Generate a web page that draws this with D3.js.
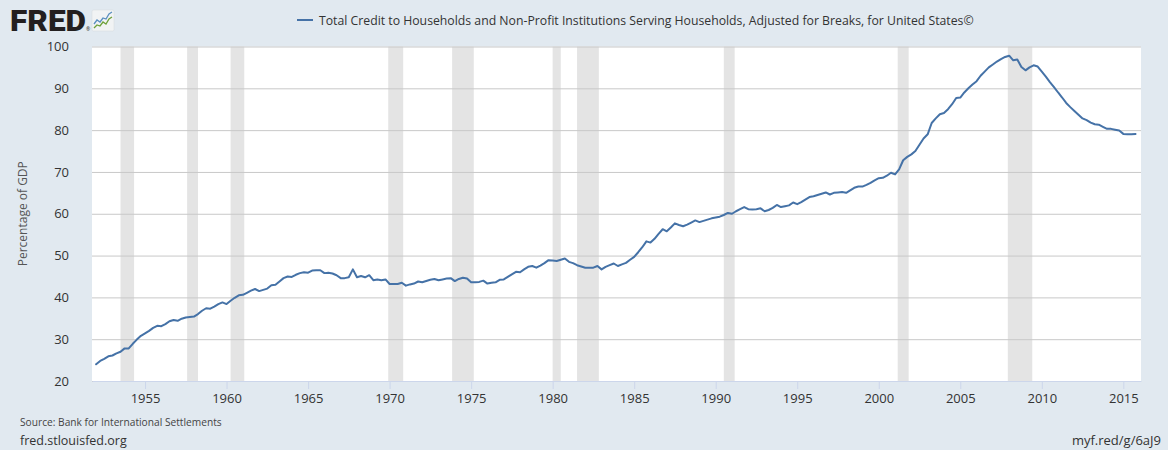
<!DOCTYPE html>
<html>
<head>
<meta charset="utf-8">
<script src="https://cdn.jsdelivr.net/npm/d3@7"></script>
<style>
  html, body { margin: 0; padding: 0; background: #e1e9f0; }
  svg { display: block; font-family: "Open Sans", sans-serif; }
</style>
</head>
<body>
<svg id="chart" width="1168" height="450"></svg>
<script>
// quarterly, starting 1952 Q1 (percentage of GDP)
const startYear = 1952;
const credit = [
  24.0, 24.8, 25.3, 25.9,  26.1, 26.6, 27.0, 27.8,  27.8, 28.9, 29.9, 30.8,  31.4, 32.0, 32.7, 33.2,
  33.1, 33.6, 34.3, 34.6,  34.4, 34.9, 35.2, 35.3,  35.4, 36.0, 36.8, 37.4,  37.3, 37.8, 38.4, 38.8,
  38.4, 39.2, 39.9, 40.5,  40.6, 41.1, 41.6, 42.0,  41.5, 41.8, 42.1, 42.9,  43.0, 43.8, 44.6, 45.0,
  44.9, 45.4, 45.8, 46.0,  45.9, 46.4, 46.5, 46.5,  45.8, 45.9, 45.7, 45.3,  44.6, 44.6, 44.8, 46.7,
  44.8, 45.1, 44.8, 45.3,  44.1, 44.3, 44.1, 44.3,  43.2, 43.2, 43.2, 43.5,  42.8, 43.1, 43.3, 43.8,
  43.6, 43.9, 44.2, 44.4,  44.1, 44.3, 44.5, 44.6,  43.9, 44.4, 44.7, 44.5,  43.6, 43.6, 43.7, 44.0,
  43.3, 43.5, 43.6, 44.2,  44.3, 44.9, 45.5, 46.1,  46.0, 46.7, 47.3, 47.5,  47.1, 47.6, 48.2, 48.9,
  48.8, 48.7, 49.0, 49.3,  48.5, 48.2, 47.7, 47.4,  47.1, 47.1, 47.1, 47.5,  46.7, 47.3, 47.7, 48.1,
  47.5, 47.9, 48.25, 49.0, 49.7, 50.8, 52.0, 53.4,  53.1, 54.0, 55.2, 56.3,  55.8, 56.7, 57.7, 57.3,
  57.0, 57.4, 57.9, 58.4,  58.0, 58.3, 58.6, 58.9,  59.1, 59.3, 59.7, 60.2,  60.0, 60.6, 61.1, 61.6,
  61.1, 61.0, 61.1, 61.3,  60.6, 60.9, 61.4, 62.1,  61.6, 61.8, 62.0, 62.7,  62.3, 62.8, 63.4, 64.0,
  64.2, 64.5, 64.8, 65.1,  64.6, 65.0, 65.1, 65.2,  65.0, 65.6, 66.2, 66.5,  66.5, 66.9, 67.4, 68.0,
  68.5, 68.6, 69.1, 69.8,  69.4, 70.6, 72.8, 73.6,  74.2, 75.0, 76.5, 78.0,  79.0, 81.7, 82.8, 83.8,
  84.1, 85.0, 86.2, 87.7,  87.8, 89.0, 90.0, 90.9,  91.7, 93.0, 94.0, 95.0,  95.7, 96.4, 97.0, 97.5,
  97.8, 96.7, 96.9, 95.1,  94.3, 95.0, 95.5, 95.2,  94.0, 92.8, 91.5, 90.3,  89.0, 87.8, 86.5, 85.5,
  84.6, 83.7, 82.8, 82.4,  81.8, 81.4, 81.3, 80.8,  80.3, 80.3, 80.1, 79.9,  79.1, 79.0, 79.0, 79.1
];

// NBER recessions, peak month to trough month
const recessions = [
  ['1953-07-01', '1954-05-01'], ['1957-08-01', '1958-04-01'], ['1960-04-01', '1961-02-01'],
  ['1969-12-01', '1970-11-01'], ['1973-11-01', '1975-03-01'], ['1980-01-01', '1980-07-01'],
  ['1981-07-01', '1982-11-01'], ['1990-07-01', '1991-03-01'], ['2001-03-01', '2001-11-01'],
  ['2007-12-01', '2009-06-01']
];

const yTicks = [20, 30, 40, 50, 60, 70, 80, 90, 100];
const xTickYears = [1955, 1960, 1965, 1970, 1975, 1980, 1985, 1990, 1995, 2000, 2005, 2010, 2015];

const title = 'Total Credit to Households and Non-Profit Institutions Serving Households, Adjusted for Breaks, for United States\u00a9';
const yLabel = 'Percentage of GDP';
const source = 'Source: Bank for International Settlements';

const parse = d3.utcParse('%Y-%m-%d');
const series = credit.map((v, i) => ({
  date: new Date(Date.UTC(startYear + Math.floor(i / 4), (i % 4) * 3, 1)),
  value: v
}));

const plot = {left: 92, right: 1141, top: 46.5, bottom: 381};

const x = d3.scaleUtc()
  .domain([parse('1951-10-01'), parse('2016-02-01')])
  .range([plot.left, plot.right]);
const y = d3.scaleLinear()
  .domain([20, 100])
  .range([plot.bottom, plot.top]);

const svg = d3.select('#chart');

// FRED logo
const logo = svg.append('g');
logo.append('text')
  .attr('x', 10)
  .attr('y', 31)
  .attr('font-family', 'Roboto, "Open Sans", sans-serif')
  .attr('font-weight', 900)
  .attr('font-size', 29)
  .attr('textLength', 76)
  .attr('lengthAdjust', 'spacingAndGlyphs')
  .attr('fill', '#231f20')
  .text('FRED');
logo.append('text')
  .attr('x', 86)
  .attr('y', 31)
  .attr('font-size', 5)
  .attr('fill', '#231f20')
  .text('\u00ae');
const icon = logo.append('g').attr('transform', 'translate(92,10)');
icon.append('rect')
  .attr('width', 22).attr('height', 21).attr('rx', 1.5)
  .attr('fill', '#f1f3f4')
  .attr('stroke', '#d4d8dc').attr('stroke-width', 0.5);
icon.append('path')
  .attr('d', 'M2,14 L5,10 L8,12 L11,8 L14,9 L17,4 L20,2')
  .attr('fill', 'none').attr('stroke', '#5b8fc0').attr('stroke-width', 1.3);
icon.append('path')
  .attr('d', 'M2,18 L5,15 L8,16 L11,12 L14,14 L17,9 L20,7')
  .attr('fill', 'none').attr('stroke', '#6ea13a').attr('stroke-width', 1.3);

// legend
const legend = svg.append('g').attr('transform', 'translate(297,20)');
legend.append('line')
  .attr('x1', 0).attr('x2', 16)
  .attr('stroke', '#4572a7').attr('stroke-width', 2);
legend.append('text')
  .attr('x', 22)
  .attr('y', 4.5)
  .attr('font-size', 12.25)
  .attr('fill', '#333')
  .text(title);

// plot background
svg.append('rect')
  .attr('x', plot.left)
  .attr('y', plot.top)
  .attr('width', plot.right - plot.left)
  .attr('height', plot.bottom - plot.top)
  .attr('fill', '#fff');

// recession shading
svg.append('g')
  .selectAll('rect')
  .data(recessions)
  .join('rect')
  .attr('x', d => x(parse(d[0])))
  .attr('width', d => x(parse(d[1])) - x(parse(d[0])))
  .attr('y', plot.top)
  .attr('height', plot.bottom - plot.top)
  .attr('fill', '#e4e4e4');

// y axis with gridlines
const yAxis = svg.append('g')
  .attr('transform', `translate(${plot.left},0)`)
  .call(d3.axisLeft(y)
    .tickValues(yTicks)
    .tickSize(-(plot.right - plot.left))
    .tickPadding(23));
yAxis.select('.domain').remove();
yAxis.selectAll('.tick line')
  .attr('stroke', '#c8c8c8');
yAxis.selectAll('.tick text')
  .attr('font-family', '"Open Sans", sans-serif')
  .attr('font-size', 13)
  .attr('fill', '#333');

// x axis
const xAxis = svg.append('g')
  .attr('transform', `translate(0,${plot.bottom})`)
  .call(d3.axisBottom(x)
    .tickValues(xTickYears.map(yr => new Date(Date.UTC(yr, 0, 1))))
    .tickFormat(d3.utcFormat('%Y'))
    .tickSize(8)
    .tickSizeOuter(0)
    .tickPadding(5));
xAxis.select('.domain').attr('stroke', '#ccd6eb');
xAxis.selectAll('.tick line').attr('stroke', '#ccd6eb');
xAxis.selectAll('.tick text')
  .attr('font-family', '"Open Sans", sans-serif')
  .attr('font-size', 13)
  .attr('fill', '#333');

// y axis label
svg.append('text')
  .attr('transform', `translate(27,${(plot.top + plot.bottom) / 2}) rotate(-90)`)
  .attr('text-anchor', 'middle')
  .attr('font-size', 12)
  .attr('fill', '#555')
  .text(yLabel);

// series line
const line = d3.line()
  .x(d => x(d.date))
  .y(d => y(d.value));
svg.append('path')
  .datum(series)
  .attr('d', line)
  .attr('fill', 'none')
  .attr('stroke', '#4572a7')
  .attr('stroke-width', 2)
  .attr('stroke-linejoin', 'round')
  .attr('stroke-linecap', 'round');

// footer
svg.append('text')
  .attr('x', 20).attr('y', 426)
  .attr('font-size', 10.2)
  .attr('fill', '#444')
  .text(source);
svg.append('text')
  .attr('x', 20).attr('y', 445)
  .attr('font-size', 12.5)
  .attr('fill', '#333')
  .text('fred.stlouisfed.org');
svg.append('text')
  .attr('x', 1161).attr('y', 445)
  .attr('text-anchor', 'end')
  .attr('font-size', 13)
  .attr('fill', '#333')
  .text('myf.red/g/6aJ9');
</script>
</body>
</html>
